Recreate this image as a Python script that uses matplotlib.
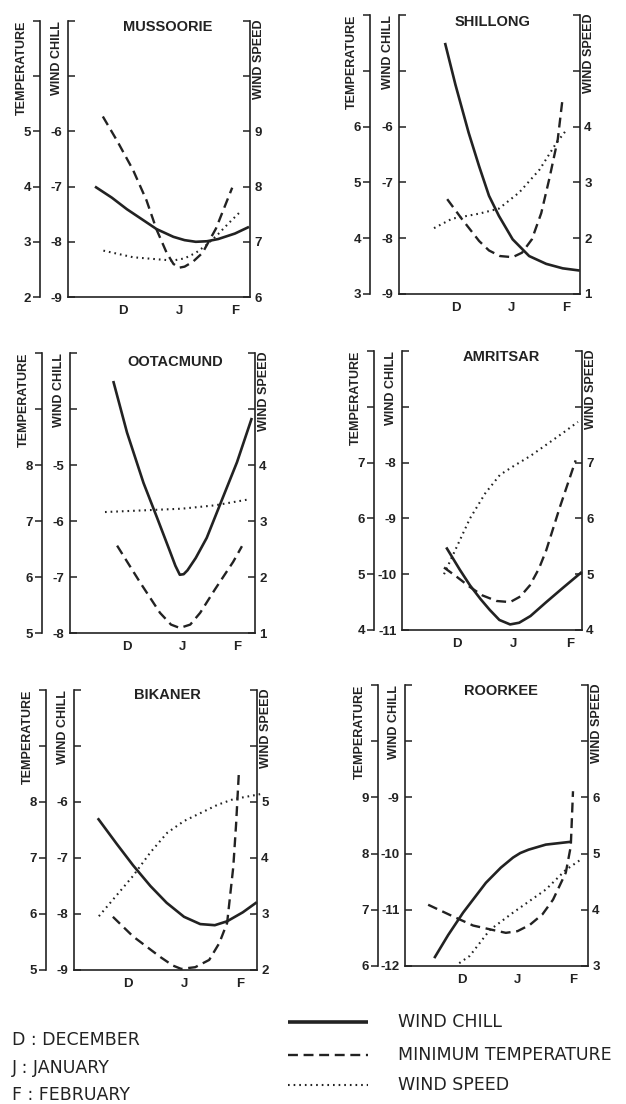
import matplotlib
matplotlib.use("Agg")
import matplotlib.pyplot as plt
from matplotlib.lines import Line2D

# ---------------- data (x: D=0, J=1, F=2) ----------------
months = ["D", "J", "F"]
month_pos = [0, 1, 2]

# MUSSOORIE
mus_chill_x = [-0.5, -0.2, 0.07, 0.35, 0.6, 0.9, 1.1, 1.3, 1.5, 1.7, 2.0, 2.25]
mus_chill_y = [-7.0, -7.2, -7.41, -7.6, -7.77, -7.91, -7.97, -8.0, -7.99, -7.95, -7.85, -7.73]
mus_temp_x = [-0.36, -0.1, 0.18, 0.42, 0.6, 0.78, 0.9, 1.0, 1.1, 1.25, 1.42, 1.66, 1.95]
mus_temp_y = [5.27, 4.82, 4.3, 3.75, 3.22, 2.8, 2.6, 2.53, 2.55, 2.64, 2.8, 3.24, 3.98]
mus_wind_x = [-0.35, 0.18, 0.65, 0.89, 1.1, 1.3, 1.5, 1.7, 1.89, 2.07]
mus_wind_y = [6.84, 6.72, 6.68, 6.66, 6.7, 6.8, 6.95, 7.14, 7.34, 7.52]
mus_temp_ticks = [2, 3, 4, 5, 6, 7]
mus_chill_ticks = [-9, -8, -7, -6, -5, -4]
mus_wind_ticks = [6, 7, 8, 9, 10, 11]

# SHILLONG
shi_chill_x = [-0.2, -0.01, 0.23, 0.42, 0.6, 0.78, 1.03, 1.33, 1.64, 1.94, 2.25]
shi_chill_y = [-4.5, -5.25, -6.11, -6.71, -7.24, -7.6, -8.02, -8.32, -8.46, -8.54, -8.58]
shi_temp_x = [-0.16, 0.11, 0.42, 0.6, 0.8, 1.03, 1.2, 1.38, 1.55, 1.7, 1.85, 1.94]
shi_temp_y = [4.7, 4.34, 3.95, 3.78, 3.68, 3.66, 3.74, 3.98, 4.45, 5.08, 5.77, 6.52]
shi_wind_x = [-0.4, -0.07, 0.42, 0.78, 1.15, 1.52, 1.82, 2.0]
shi_wind_y = [2.18, 2.35, 2.44, 2.53, 2.82, 3.23, 3.7, 3.93]
shi_temp_ticks = [3, 4, 5, 6, 7, 8]
shi_chill_ticks = [-9, -8, -7, -6, -5, -4]
shi_wind_ticks = [1, 2, 3, 4, 5, 6]

# OOTACMUND
oot_chill_x = [-0.25, 0.0, 0.3, 0.55, 0.78, 0.88, 0.96, 1.03, 1.1, 1.25, 1.45, 1.69, 2.0, 2.27]
oot_chill_y = [-3.5, -4.42, -5.32, -5.95, -6.54, -6.8, -6.96, -6.95, -6.88, -6.66, -6.3, -5.71, -4.95, -4.16]
oot_temp_x = [-0.18, 0.24, 0.6, 0.8, 0.96, 1.15, 1.33, 1.6, 1.93, 2.09]
oot_temp_y = [6.56, 5.9, 5.36, 5.15, 5.09, 5.15, 5.36, 5.78, 6.27, 6.55]
oot_wind_x = [-0.4, 0.3, 1.0, 1.6, 2.18]
oot_wind_y = [3.16, 3.19, 3.22, 3.28, 3.38]
oot_temp_ticks = [5, 6, 7, 8, 9, 10]
oot_chill_ticks = [-8, -7, -6, -5, -4, -3]
oot_wind_ticks = [1, 2, 3, 4, 5, 6]

# AMRITSAR
amr_chill_x = [-0.19, 0.05, 0.23, 0.42, 0.58, 0.75, 0.94, 1.1, 1.3, 1.58, 1.88, 2.21]
amr_chill_y = [-9.52, -9.92, -10.2, -10.45, -10.64, -10.82, -10.9, -10.87, -10.75, -10.5, -10.24, -9.96]
amr_temp_x = [-0.23, 0.0, 0.23, 0.45, 0.7, 0.94, 1.12, 1.29, 1.45, 1.58, 1.82, 2.1]
amr_temp_y = [5.12, 4.95, 4.77, 4.62, 4.52, 4.5, 4.6, 4.8, 5.1, 5.43, 6.2, 7.04]
amr_wind_x = [-0.23, 0.23, 0.5, 0.76, 0.99, 1.3, 1.58, 1.9, 2.14]
amr_wind_y = [5.0, 6.0, 6.45, 6.78, 6.93, 7.12, 7.32, 7.55, 7.73]
amr_temp_ticks = [4, 5, 6, 7, 8, 9]
amr_chill_ticks = [-11, -10, -9, -8, -7, -6]
amr_wind_ticks = [4, 5, 6, 7, 8, 9]

# BIKANER
bik_chill_x = [-0.54, -0.2, 0.09, 0.4, 0.69, 1.0, 1.29, 1.55, 1.77, 2.05, 2.3]
bik_chill_y = [-6.29, -6.75, -7.13, -7.5, -7.8, -8.05, -8.18, -8.2, -8.13, -7.97, -7.79]
bik_temp_x = [-0.27, 0.09, 0.58, 0.8, 0.95, 1.2, 1.45, 1.63, 1.77, 1.88, 1.93, 1.98]
bik_temp_y = [5.95, 5.6, 5.23, 5.08, 5.02, 5.05, 5.18, 5.48, 5.84, 6.84, 7.6, 8.53]
bik_wind_x = [-0.52, 0.09, 0.4, 0.7, 1.0, 1.29, 1.6, 1.88, 2.36]
bik_wind_y = [2.96, 3.68, 4.1, 4.45, 4.66, 4.8, 4.95, 5.05, 5.14]
bik_temp_ticks = [5, 6, 7, 8, 9, 10]
bik_chill_ticks = [-9, -8, -7, -6, -5, -4]
bik_wind_ticks = [2, 3, 4, 5, 6, 7]

# ROORKEE
roo_chill_x = [-0.5, -0.25, 0.02, 0.43, 0.7, 0.92, 1.05, 1.2, 1.51, 1.96]
roo_chill_y = [-11.86, -11.45, -11.05, -10.52, -10.25, -10.07, -9.99, -9.93, -9.84, -9.79]
roo_temp_x = [-0.61, -0.2, 0.2, 0.56, 0.79, 1.0, 1.22, 1.45, 1.64, 1.87, 1.96, 2.0]
roo_temp_y = [7.09, 6.9, 6.72, 6.64, 6.59, 6.62, 6.73, 6.92, 7.18, 7.66, 8.13, 9.11]
roo_wind_x = [-0.05, 0.14, 0.5, 0.92, 1.51, 1.87, 2.12]
roo_wind_y = [3.05, 3.18, 3.64, 3.95, 4.36, 4.71, 4.88]
roo_temp_ticks = [6, 7, 8, 9, 10, 11]
roo_chill_ticks = [-12, -11, -10, -9, -8, -7]
roo_wind_ticks = [3, 4, 5, 6, 7, 8]

titles = ["MUSSOORIE", "SHILLONG", "OOTACMUND", "AMRITSAR", "BIKANER", "ROORKEE"]
legend_months = ["D : DECEMBER", "J : JANUARY", "F : FEBRUARY"]
legend_series = ["WIND CHILL", "MINIMUM TEMPERATURE", "WIND SPEED"]

# ---------------- layout (pixels) ----------------
W, H = 626, 1104
DPI = 100
INK = "#222222"
FONT = "Liberation Sans"

# left, right, top, bottom, temperature-axis x, D pixel, month spacing, title x, title y
boxes = [
    (68, 250, 21, 297, 40, 123, 56.0, 168, 27),
    (399, 580, 15, 294, 370, 456, 55.0, 493, 22),
    (70, 255, 353, 633, 42, 127, 55.0, 175, 362),
    (402, 582, 351, 630, 374, 457, 56.5, 501, 357),
    (74, 257, 690, 970, 46, 128, 56.0, 167, 695),
    (405, 588, 685, 966, 378, 462, 55.5, 501, 691),
]

panels = [
    (mus_chill_x, mus_chill_y, mus_temp_x, mus_temp_y, mus_wind_x, mus_wind_y,
     mus_temp_ticks, mus_chill_ticks, mus_wind_ticks),
    (shi_chill_x, shi_chill_y, shi_temp_x, shi_temp_y, shi_wind_x, shi_wind_y,
     shi_temp_ticks, shi_chill_ticks, shi_wind_ticks),
    (oot_chill_x, oot_chill_y, oot_temp_x, oot_temp_y, oot_wind_x, oot_wind_y,
     oot_temp_ticks, oot_chill_ticks, oot_wind_ticks),
    (amr_chill_x, amr_chill_y, amr_temp_x, amr_temp_y, amr_wind_x, amr_wind_y,
     amr_temp_ticks, amr_chill_ticks, amr_wind_ticks),
    (bik_chill_x, bik_chill_y, bik_temp_x, bik_temp_y, bik_wind_x, bik_wind_y,
     bik_temp_ticks, bik_chill_ticks, bik_wind_ticks),
    (roo_chill_x, roo_chill_y, roo_temp_x, roo_temp_y, roo_wind_x, roo_wind_y,
     roo_temp_ticks, roo_chill_ticks, roo_wind_ticks),
]

PX = 72.0 / DPI  # points per pixel

SOLID = dict(color=INK, lw=1.9, linestyle="-", solid_capstyle="butt", solid_joinstyle="round")
DASHED = dict(color=INK, lw=1.7, linestyle=(0, (4.2, 2.4)))
DOTTED = dict(color=INK, lw=1.5, linestyle=(0, (0.8, 1.9)))

fig = plt.figure(figsize=(W / DPI, H / DPI), dpi=DPI)
fig.patch.set_facecolor("white")


def fx(px):
    return px / W


def fy(py):
    return 1 - py / H


def labels_for(ticks):
    return [str(t) if i < 4 else "" for i, t in enumerate(ticks)]


TICKFONT = dict(fontsize=9.5, fontweight="bold", family=FONT, color=INK)
LABFONT = dict(fontsize=9, fontweight="bold", family=FONT, color=INK)

for (box, data, title) in zip(boxes, panels, titles):
    l, r, t, b, tx, dpx, sp, ttx, tty = box
    (cx, cy, tpx, tpy, wx, wy, tt, ct, wt) = data

    ax = fig.add_axes([fx(l), fy(b), fx(r - l), (b - t) / H])
    ax.set_facecolor("none")
    ax.set_xlim((l - dpx) / sp, (r - dpx) / sp)
    ax.set_ylim(ct[0], ct[-1])
    for s in ("top", "right"):
        ax.spines[s].set_visible(False)
    for s in ("left", "bottom"):
        ax.spines[s].set_linewidth(1.2)
        ax.spines[s].set_color(INK)
    ax.set_xticks(month_pos)
    ax.set_xticklabels(months, **TICKFONT)
    ax.tick_params(axis="x", length=0, pad=6)
    ax.set_yticks(ct)
    ax.set_yticklabels(labels_for(ct), **TICKFONT)
    ax.tick_params(axis="y", direction="in", length=5, width=1.1, color=INK, pad=4)

    # temperature axis (offset to the left)
    axt = ax.twinx()
    axt.set_ylim(tt[0], tt[-1])
    for s in ("top", "right", "bottom"):
        axt.spines[s].set_visible(False)
    axt.spines["left"].set_visible(True)
    axt.spines["left"].set_position(("outward", (l - tx) * PX))
    axt.spines["left"].set_linewidth(1.2)
    axt.spines["left"].set_color(INK)
    axt.yaxis.tick_left()
    axt.set_yticks(tt)
    axt.set_yticklabels(labels_for(tt), **TICKFONT)
    axt.tick_params(axis="y", direction="out", length=5, width=1.1, color=INK, pad=1.5)

    # wind speed axis (right)
    axw = ax.twinx()
    axw.set_ylim(wt[0], wt[-1])
    for s in ("top", "left", "bottom"):
        axw.spines[s].set_visible(False)
    axw.spines["right"].set_linewidth(1.2)
    axw.spines["right"].set_color(INK)
    axw.set_yticks(wt)
    axw.set_yticklabels(labels_for(wt), **TICKFONT)
    axw.tick_params(axis="y", direction="in", length=5, width=1.1, color=INK, pad=3)

    ax.plot(cx, cy, clip_on=False, zorder=3, **SOLID)
    axt.plot(tpx, tpy, clip_on=False, zorder=3, **DASHED)
    axw.plot(wx, wy, clip_on=False, zorder=3, **DOTTED)

    fig.text(fx(ttx), fy(tty), title, ha="center", va="center", fontsize=10.5,
             fontweight="bold", family=FONT, color=INK)
    fig.text(fx(tx - 18), fy(t), "TEMPERATURE", rotation=90, ha="center", va="top", **LABFONT)
    fig.text(fx(l - 11), fy(t), "WIND CHILL", rotation=90, ha="center", va="top", **LABFONT)
    fig.text(fx(r + 9), fy(t - 2), "WIND SPEED", rotation=90, ha="center", va="top", **LABFONT)

# ---------------- legend ----------------
for txt, y in zip(legend_months, [1040, 1068, 1095]):
    fig.text(fx(12), fy(y), txt, ha="left", va="center", fontsize=12.5,
             family="DejaVu Sans", color=INK)

styles = [SOLID, DASHED, DOTTED]
for txt, y, st in zip(legend_series, [1022, 1055, 1085], styles):
    st2 = dict(st)
    if st is SOLID:
        st2["lw"] = 2.6
    fig.add_artist(Line2D([fx(288), fx(368)], [fy(y), fy(y)], transform=fig.transFigure, **st2))
    fig.text(fx(398), fy(y), txt, ha="left", va="center", fontsize=12.5,
             family="DejaVu Sans", color=INK)

fig.savefig("out.png", dpi=DPI, facecolor="white")
